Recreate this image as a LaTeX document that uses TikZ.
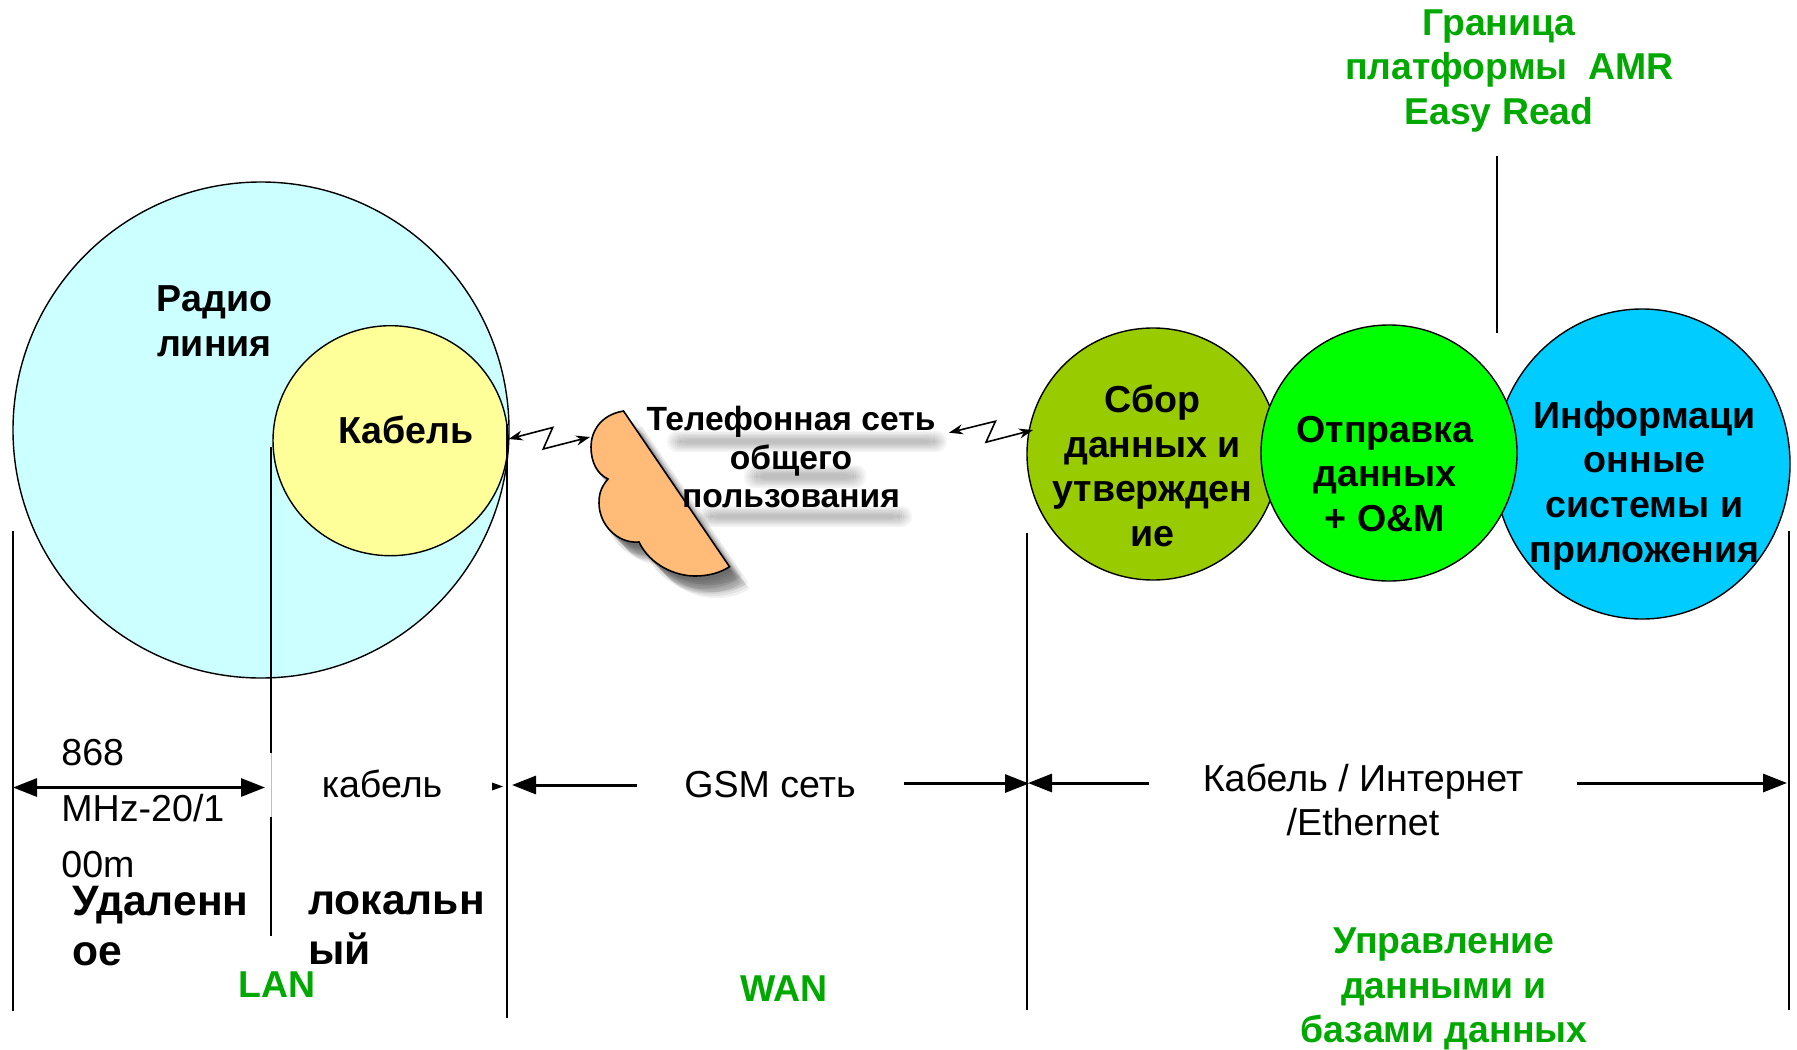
\documentclass[tikz,border=0pt]{standalone}
\usepackage{fontspec}
\setmainfont{Liberation Sans}
\usetikzlibrary{arrows.meta,shapes.geometric}
\definecolor{gtext}{HTML}{00A800}
\definecolor{cradio}{HTML}{CCFFFF}
\definecolor{ccable}{HTML}{FFFF99}
\definecolor{colive}{HTML}{99CC00}
\definecolor{cgreen}{HTML}{00FF00}
\definecolor{cblue}{HTML}{00CCFF}
\definecolor{ccloud}{HTML}{FFBB77}
\tikzset{
  disc/.style={circle,draw=black,line width=0.7pt,inner sep=0pt},
  oval/.style={ellipse,draw=black,line width=0.7pt,inner sep=0pt},
  reg/.style={inner sep=0pt,align=center,font=\fontsize{18.8}{22}\selectfont},
  regw/.style={inner sep=0pt,align=left,font=\fontsize{18.8}{28}\selectfont},
  bld/.style={inner sep=0pt,align=center,font=\fontsize{18.8}{22.3}\selectfont\bfseries},
  big/.style={inner sep=0pt,align=left,font=\fontsize{21.3}{25}\selectfont\bfseries},
  grn/.style={inner sep=0pt,align=center,text=gtext,font=\fontsize{18.7}{22.3}\selectfont\bfseries},
  tel/.style={inner sep=0pt,align=center,font=\fontsize{16.8}{19.2}\selectfont\bfseries},
  rule/.style={draw=black,line width=0.7pt},
  dim/.style={draw=black,line width=1.5pt,-{Triangle[length=12pt,width=9pt]}},
  zig/.style={draw=black,line width=0.8pt,{Stealth[length=7pt,width=5pt]}-{Stealth[length=7pt,width=5pt]}},
  smear/.style={fill=black,opacity=0.04,rounded corners=5pt},
}
\newcommand{\cloudpath}{(623.5,411) .. controls (600,415) and (591,432) .. (591,447)
  .. controls (591,462) and (597,474) .. (608,479)
  .. controls (600,488) and (599,496) .. (599,503)
  .. controls (599,525) and (618,544) .. (639,542)
  .. controls (650,565) and (675,576) .. (695,576)
  .. controls (708,576) and (720,573) .. (729.5,566.7) -- cycle}
\begin{document}
\begin{tikzpicture}[x=0.5pt,y=-0.5pt]
\useasboundingbox (0,0) rectangle (1797,1049);
% circles
\node[disc,fill=cradio,minimum size=248pt] (radio) at (261,430) {};
\node[oval,fill=ccable,minimum width=117.5pt,minimum height=115pt] (cable) at (390.5,440.7) {};
\node[oval,fill=cblue,minimum width=148pt,minimum height=155pt] (info) at (1642,464) {};
\node[disc,fill=colive,minimum size=126pt] (collect) at (1153,454) {};
\node[disc,fill=cgreen,minimum size=128pt] (send) at (1389,453) {};
% label shadow: soft grey bands
\foreach \g in {0,2,...,12}{
  \fill[smear] (667+\g,431+\g*0.7) rectangle (947-\g,452-\g*0.7);
  \fill[smear] (744+\g,465+\g*0.7) rectangle (866-\g,488-\g*0.7);
  \fill[smear] (698+\g,506+\g*0.7) rectangle (912-\g,527-\g*0.7);
}
% cloud shadow
\foreach \dx/\dy in {2/4,4/6,6/8,8/10,10/12,12/14,14/16,16/18,18/20,20/22,7/13,13/9,11/17,19/16}{
  \fill[black,opacity=0.06,shift={(\dx*0.5pt,-\dy*0.5pt)}] \cloudpath;
}
\draw[fill=ccloud,draw=black,line width=0.8pt] \cloudpath;
\coordinate (cloudw) at (590,437);
\coordinate (telr) at (949,432.7);
\coordinate (cablee) at (508.7,439);
\coordinate (collectw) at (1033,430);
\node[tel] (phone) at (791,457) {Телефонная сеть\\общего\\пользования};
% zigzags
\draw[zig] (cablee) -- ++(44,-11.5) -- ++(-9.5,21.5) -- (cloudw);
\draw[zig] (telr) -- ++(46.5,-11.5) -- ++(-9.5,21) -- (collectw);
% rules
\coordinate (a1) at (13,531); \coordinate (a2) at (13,1011);
\coordinate (b1) at (271,447); \coordinate (b2) at (271,753);
\coordinate (b3) at (271,753); \coordinate (b4) at (271,817);
\coordinate (b5) at (271,817); \coordinate (b6) at (271,936);
\coordinate (c1) at (507,424); \coordinate (c2) at (507,1018);
\coordinate (d1) at (1027,533); \coordinate (d2) at (1027,1010);
\coordinate (e1) at (1789,531); \coordinate (e2) at (1789,1010);
\coordinate (f1) at (1497,156); \coordinate (f2) at (1497,333);
\draw[rule] (a1) -- (a2);
\draw[rule] (b1) -- (b2);
\draw[draw=black!25,line width=0.4pt] (b3) -- (b4);
\draw[rule] (b5) -- (b6);
\draw[rule] (c1) -- (c2);
\draw[rule] (d1) -- (d2);
\draw[rule] (e1) -- (e2);
\draw[rule] (f1) -- (f2);
% dimension arrows
\coordinate (g1) at (13,787.5); \coordinate (g2) at (265,787.5);
\draw[dim,{Triangle[length=12pt,width=9pt]}-{Triangle[length=12pt,width=9pt]}] (g1) -- (g2);
\coordinate (h2) at (503,786.5);
\fill[black] (492,782.5) -- (h2) -- (492,790.5) -- cycle;
\coordinate (i1) at (637,785); \coordinate (i2) at (512,785);
\draw[dim] (i1) -- (i2);
\coordinate (j1) at (904,783.5); \coordinate (j2) at (1029,783.5);
\draw[dim] (j1) -- (j2);
\coordinate (k1) at (1149,783); \coordinate (k2) at (1028,783);
\draw[dim] (k1) -- (k2);
\coordinate (l1) at (1577,783); \coordinate (l2) at (1787,783);
\draw[dim] (l1) -- (l2);
% labels
\node[grn] (amr) at (1499,71) {Граница\\\hspace*{10.5pt}платформы~~AMR\\Easy Read};
\node[bld] (radiot) at (214.5,321) {Радио\\линия};
\node[bld] (cablet) at (406,429.5) {Кабель};
\node[bld] (collectt) at (1152.5,466) {Сбор\\данных и\\утвержден\\ие};
\node[bld] (sendt) at (1385,474) {Отправка\\данных\\+ O\&M};
\node[bld] (infot) at (1644.5,485.5) {Информаци\\онные\\системы и\\приложения};
\node[regw,anchor=west] (mhz) at (61,809) {868\\MHz-20/1\\00m};
\node[reg] (cablew) at (382,784) {кабель};
\node[reg] (gsm) at (770,785) {GSM сеть};
\node[reg] (inet) at (1363,800) {Кабель / Интернет\\/Ethernet};
\node[big,anchor=west] (remote) at (72,926) {Удаленн\\ое};
\node[big,anchor=west] (local) at (308,928) {локальн\\ый};
\node[grn] (lan) at (277,985) {LAN};
\node[grn] (wan) at (784,989) {WAN};
\node[grn] (mgmt) at (1444,989) {Управление\\данными и\\базами данных};
\end{tikzpicture}
\end{document}
